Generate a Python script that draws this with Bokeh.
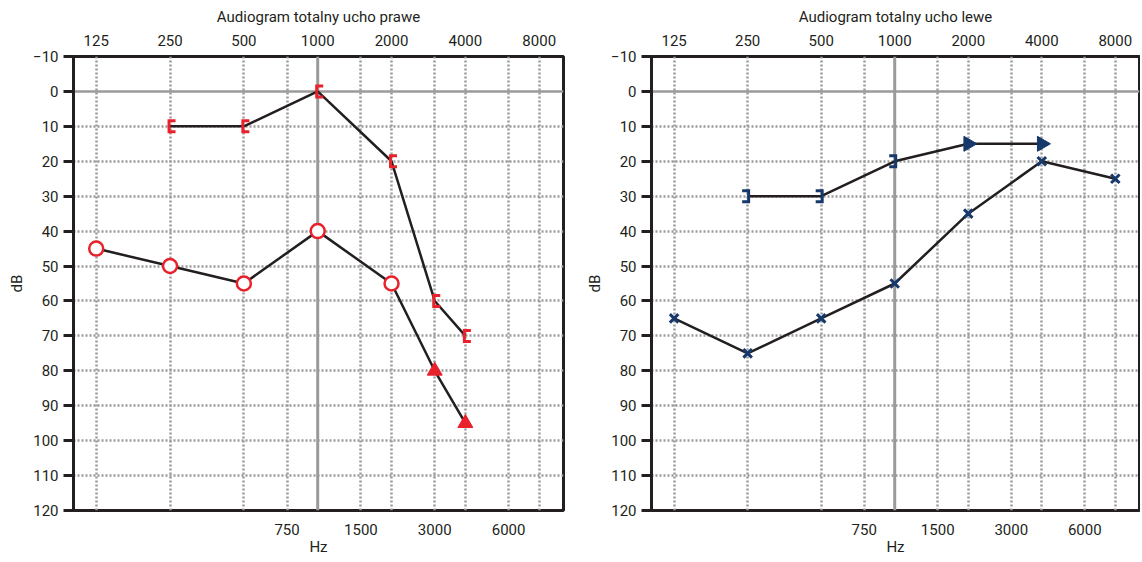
import numpy as np
from bokeh.plotting import figure
from bokeh.models import Range1d, FixedTicker, LogAxis, Span
from bokeh.layouts import row
from bokeh.embed import file_html
from bokeh.resources import INLINE

# ---------------- data ----------------
top_ticks = [125, 250, 500, 1000, 2000, 4000, 8000]
bottom_ticks = [750, 1500, 3000, 6000]
db_ticks = [-10, 0, 10, 20, 30, 40, 50, 60, 70, 80, 90, 100, 110, 120]

titles = ["Audiogram totalny ucho prawe", "Audiogram totalny ucho lewe"]

# right ear (ucho prawe)
r_bone_f = [250, 500, 1000, 2000, 3000, 4000]
r_bone_db = [10, 10, 0, 20, 60, 70]
r_air_f = [125, 250, 500, 1000, 2000]
r_air_db = [45, 50, 55, 40, 55]
r_air_nr_f = [3000, 4000]
r_air_nr_db = [80, 95]

# left ear (ucho lewe)
l_bone_f = [250, 500, 1000]
l_bone_db = [30, 30, 20]
l_bone_nr_f = [2000, 4000]
l_bone_nr_db = [15, 15]
l_air_f = [125, 250, 500, 1000, 2000, 4000, 8000]
l_air_db = [65, 75, 65, 55, 35, 20, 25]

# ---------------- style ----------------
FONT = "Roboto"
FS = "15px"
RED = "#e8212b"
NAVY = "#17386b"
INK = "#231f20"
GRID = "#9a9a9a"
FH = 454
X0 = 125 * 2 ** -0.3075
X1 = 8000 * 2 ** 0.329


def make(title, fw, mbl, mbr):
    p = figure(frame_width=fw, frame_height=FH, x_axis_type="log",
               x_axis_location="above",
               x_range=Range1d(X0, X1), y_range=Range1d(120, -10),
               toolbar_location=None, output_backend="svg",
               min_border_left=mbl, min_border_right=mbr,
               min_border_top=56, min_border_bottom=43)
    p.background_fill_color = "white"
    p.border_fill_color = "white"
    p.outline_line_color = INK
    p.outline_line_width = 3

    top = p.xaxis[0]
    top.ticker = FixedTicker(ticks=top_ticks)
    top.major_label_overrides = {t: str(t) for t in top_ticks}
    top.axis_line_color = None
    top.major_tick_line_color = None
    top.minor_tick_line_color = None
    top.major_label_standoff = 5
    top.major_label_text_font = FONT
    top.major_label_text_font_size = FS
    top.major_label_text_color = INK
    top.axis_label = title
    top.axis_label_standoff = 6
    top.axis_label_text_font = FONT
    top.axis_label_text_font_size = FS
    top.axis_label_text_font_style = "normal"
    top.axis_label_text_color = INK

    bot = LogAxis(ticker=FixedTicker(ticks=bottom_ticks))
    bot.major_label_overrides = {t: str(t) for t in bottom_ticks}
    bot.axis_line_color = None
    bot.major_tick_line_color = None
    bot.minor_tick_line_color = None
    bot.major_label_standoff = 7
    bot.major_label_text_font = FONT
    bot.major_label_text_font_size = FS
    bot.major_label_text_color = INK
    bot.axis_label = "Hz"
    bot.axis_label_standoff = 0
    bot.axis_label_text_font = FONT
    bot.axis_label_text_font_size = FS
    bot.axis_label_text_font_style = "normal"
    bot.axis_label_text_color = INK
    p.add_layout(bot, "below")

    y = p.yaxis[0]
    y.ticker = FixedTicker(ticks=db_ticks)
    y.major_label_overrides = {-10: "\u221210"}
    y.axis_line_color = INK
    y.axis_line_width = 3
    y.major_tick_line_color = INK
    y.major_tick_line_width = 3
    y.major_tick_out = 10
    y.major_tick_in = 0
    y.minor_tick_line_color = None
    y.major_label_standoff = 5
    y.major_label_text_font = FONT
    y.major_label_text_font_size = FS
    y.major_label_text_color = INK
    y.axis_label = "dB"
    y.axis_label_standoff = 4
    y.axis_label_text_font = FONT
    y.axis_label_text_font_size = FS
    y.axis_label_text_font_style = "normal"
    y.axis_label_text_color = INK

    xg = p.xgrid[0]
    xg.ticker = FixedTicker(ticks=[f for f in sorted(top_ticks + bottom_ticks) if f != 1000])
    xg.grid_line_color = GRID
    xg.grid_line_width = 2.5
    xg.grid_line_dash = "2 2"
    yg = p.ygrid[0]
    yg.ticker = FixedTicker(ticks=[d for d in db_ticks if d not in (-10, 0, 120)])
    yg.grid_line_color = GRID
    yg.grid_line_width = 2.5
    yg.grid_line_dash = "2 2"

    p.add_layout(Span(location=1000, dimension="height", line_color=GRID,
                      line_width=3, level="underlay"))
    p.add_layout(Span(location=0, dimension="width", line_color=GRID,
                      line_width=2.5, level="underlay"))
    return p


def brackets(p, fw, f, db, side, color):
    """Draw '[' (side=-1) or ']' (side=+1) brackets centred on the data points."""
    ppo = fw / np.log2(X1 / X0)           # px per octave
    dbpp = 130.0 / FH                       # dB per px
    f = np.asarray(f, float)
    db = np.asarray(db, float)
    spine = f * 2 ** (side * 1.0 / ppo)
    tip = f * 2 ** (-side * 5.5 / ppo)
    top = db - 5.5 * dbpp
    bot = db + 5.5 * dbpp
    xs = [[t, s, s, t] for s, t in zip(spine, tip)]
    ys = [[a, a, b, b] for a, b in zip(top, bot)]
    p.multi_line(xs, ys, line_color=color, line_width=3, line_join="miter")


# ---------------- left chart: ucho prawe ----------------
FW1 = 490
p1 = make(titles[0], FW1, 73, 20)
p1.line(r_bone_f, r_bone_db, line_color=INK, line_width=2.5)
p1.line(r_air_f + r_air_nr_f, r_air_db + r_air_nr_db, line_color=INK, line_width=2.5)
brackets(p1, FW1, r_bone_f, r_bone_db, -1, RED)
p1.scatter(r_air_f, r_air_db, marker="circle", size=14, line_color=RED,
           line_width=2.5, fill_color="white")
p1.scatter(r_air_nr_f, r_air_nr_db, marker="triangle", size=15, line_color=RED,
           fill_color=RED, line_width=1)

# ---------------- right chart: ucho lewe ----------------
FW2 = 488
p2 = make(titles[1], FW2, 67, 1)
p2.line(l_bone_f + l_bone_nr_f, l_bone_db + l_bone_nr_db, line_color=INK, line_width=2.5)
p2.line(l_air_f, l_air_db, line_color=INK, line_width=2.5)
brackets(p2, FW2, l_bone_f, l_bone_db, 1, NAVY)
p2.scatter(l_bone_nr_f, l_bone_nr_db, marker="triangle", size=15, angle=-np.pi / 2,
           line_color=NAVY, fill_color=NAVY, line_width=1)
p2.scatter(l_air_f, l_air_db, marker="x", size=12, line_color=NAVY, line_width=3)

layout = row(p1, p2)
open("out.html", "w").write(file_html(layout, INLINE))
